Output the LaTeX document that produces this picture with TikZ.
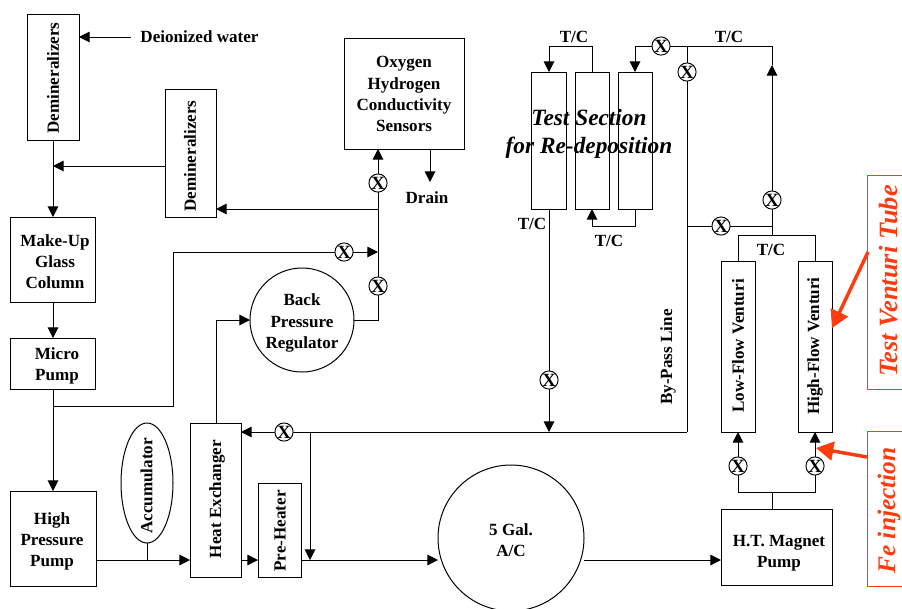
\documentclass[tikz,border=0pt]{standalone}
\usepackage{fontspec}
\setmainfont{Liberation Serif}
\usetikzlibrary{arrows.meta,calc,shapes.geometric}
\definecolor{redor}{RGB}{255,60,15}
\tikzset{
  x=0.75pt,y=-0.75pt,
  lbl/.style={font=\fontsize{12.8}{15.8}\selectfont\bfseries,align=center,inner sep=0pt},
  box/.style 2 args={draw,line width=0.75pt,inner sep=0pt,outer sep=0pt,minimum width=#1*0.75pt,minimum height=#2*0.75pt},
  ring/.style={circle,draw,line width=0.75pt,inner sep=0pt,outer sep=0pt,minimum size=#1*1.5pt},
  valve/.style={circle,draw,line width=0.7pt,fill=white,inner sep=0pt,outer sep=0pt,minimum size=13pt,font=\fontsize{14}{14}\selectfont\bfseries},
  pipe/.style={line width=0.75pt},
  flow/.style={line width=0.75pt,-{Triangle[length=8pt,width=8pt]}},
  redbox/.style 2 args={draw=redor,line width=0.75pt,inner sep=0pt,outer sep=0pt,minimum width=#1*0.75pt,minimum height=#2*0.75pt},
  redtxt/.style={font=\bfseries\itshape,text=redor,inner sep=0pt},
  redflow/.style={draw=redor,line width=2.6pt,-{Triangle[length=13pt,width=14pt]}},
}
\begin{document}
\begin{tikzpicture}
\path[use as bounding box] (0,0) rectangle (902,608);
\clip (0,0) rectangle (902,608);
% boxes
\node[box={52}{126}] (demA) at (53,77) {};
\node[box={51}{128}] (demB) at (190.5,153) {};
\node[box={120}{111}] (sens) at (404,93.5) {};
\node[box={85}{85}] (makeup) at (53,259.5) {};
\node[box={85}{51}] (micro) at (53,363.5) {};
\node[box={86}{95}] (hpp) at (53,538.5) {};
\node[ring=52] (bpr) at (302,320) {};
\node[draw,ellipse,line width=0.75pt,inner sep=0pt,outer sep=0pt,minimum width=39pt,minimum height=90pt] (acc) at (147,483) {};
\node[box={51}{154}] (hx) at (215.5,500) {};
\node[box={43}{94}] (pre) at (279.5,530) {};
\node[ring=73] (tank) at (511,538) {};
\node[box={111}{76}] (mag) at (776.5,547) {};
\node[box={34}{171}] (low) at (738,346.5) {};
\node[box={34}{171}] (high) at (815,346.5) {};
\node[box={34.5}{137}] (tsA) at (549,140.5) {};
\node[box={34.5}{137}] (tsB) at (592.5,140.5) {};
\node[box={34.5}{137}] (tsC) at (635.5,140.5) {};
% box labels
\node[lbl] (tSens) at (404,94) {Oxygen\\Hydrogen\\Conductivity\\Sensors};
\node[lbl] (tMake) at (55,262) {Make-Up\\Glass\\Column};
\node[lbl] (tMicro) at (57,366) {Micro\\Pump};
\node[lbl] (tHpp) at (52,541) {High\\Pressure\\Pump};
\node[lbl] (tBpr) at (302,323) {Back\\Pressure\\Regulator};
\node[lbl] (tTank) at (511,540) {5 Gal.\\A/C};
\node[lbl] (tMag) at (779,553) {H.T. Magnet\\Pump};
% rotated labels
\node[lbl,rotate=90] (tA) at (53,78) {Demineralizers};
\node[lbl,rotate=90] (tB) at (190,156) {Demineralizers};
\node[lbl,rotate=90] (tAcc) at (146.5,486) {Accumulator};
\node[lbl,rotate=90] (tHx) at (217,499) {Heat Exchanger};
\node[lbl,rotate=90] (tPre) at (280,531) {Pre-Heater};
\node[lbl,rotate=90] (tLow) at (738,346) {Low-Flow Venturi};
\node[lbl,rotate=90] (tHigh) at (815,346) {High-Flow Venturi};
\node[lbl,rotate=90] (tBy) at (668,357) {By-Pass Line};
% plain labels
\node[lbl] (diw) at (199.5,37) {Deionized water};
\node[lbl] (drain) at (427,198) {Drain};
\node[lbl] (tc1) at (574,37) {T/C};
\node[lbl] (tc2) at (729,37) {T/C};
\node[lbl] (tc3) at (532,224) {T/C};
\node[lbl] (tc4) at (609,241) {T/C};
\node[lbl] (tc5) at (771,250) {T/C};
\node[font=\fontsize{17.5}{21}\selectfont\bfseries\itshape,align=center,inner sep=0pt] (title) at (589,134) {Test Section\\for Re-deposition};
% valves
\node[valve] (v1) at (378,183) {X};
\node[valve] (v2) at (344,252) {X};
\node[valve] (v3) at (378,286) {X};
\node[valve] (v4) at (549,380) {X};
\node[valve] (v5) at (284,432) {X};
\node[valve] (v6) at (738,466) {X};
\node[valve] (v7) at (815,466) {X};
\node[valve] (v8) at (661,46) {X};
\node[valve] (v9) at (687,72) {X};
\node[valve] (v10) at (772,200) {X};
\node[valve] (v11) at (721,226) {X};
% free coordinates
\coordinate (src) at (131,37);
\coordinate (drainEnd) at (430,182);
\coordinate (jDem) at (53,166);
\coordinate (jMicro) at (53,406);
\coordinate (cMicro) at (173,406);
\coordinate (cTop) at (173,252);
\coordinate (jV) at (378,252);
\coordinate (jBack) at (378,209);
\coordinate (cBpr) at (378,320);
\coordinate (cHx) at (216,320);
\coordinate (jAcc) at (147,560);
\coordinate (jRet) at (310,432);
\coordinate (jPre) at (310,560);
\coordinate (cBy) at (687,432);
\coordinate (jTs) at (549,432);
\coordinate (jTop) at (687,46);
\coordinate (cTopR) at (772,46);
\coordinate (cTopM) at (635,46);
\coordinate (tipR) at (772,65);
\coordinate (jByp) at (687,226);
\coordinate (jR) at (772,226);
\coordinate (jVen) at (772,235);
\coordinate (cVenL) at (738,235);
\coordinate (cVenR) at (815,235);
\coordinate (cMagL) at (738,492);
\coordinate (cMagR) at (815,492);
\coordinate (jMag) at (772,492);
\coordinate (cTsA) at (549,46);
\coordinate (cTsB) at (592,46);
\coordinate (cBotC) at (635,226);
\coordinate (cBotB) at (592,226);
\coordinate (fxA) at (868,252);
\coordinate (fxB) at (867,457);
\coordinate (fxTipA) at (832,328);
\coordinate (fxTipB) at (816,448);
% connectors
\draw[flow] (src) -- (src -| demA.east);
\draw[flow] (demA.south) -- (makeup.north);
\draw[flow] (demB.west |- jDem) -- (jDem);
\draw[flow] (makeup.south) -- (micro.north);
\draw[flow] (micro.south) -- (hpp.north);
\draw[pipe] (jMicro) -- (cMicro) -- (cTop) -- (v2);
\draw[flow] (v2) -- (jV);
\draw[flow] (hx.north -| cHx) -- (cHx) -- (bpr.west);
\draw[pipe] (bpr.east) -- (cBpr) -- (v3);
\draw[pipe] (v3) -- (v1);
\draw[flow] (v1) -- (v1 |- sens.south);
\draw[flow] (jBack) -- (demB.east |- jBack);
\draw[flow] (drainEnd |- sens.south) -- (drainEnd);
\draw[pipe] (hpp.east |- jAcc) -- (jAcc);
\draw[flow] (jAcc) -- (hx.west |- jAcc);
\draw[pipe] (acc.south) -- (jAcc);
\draw[flow] (hx.east |- jAcc) -- (pre.west |- jAcc);
\draw[flow] (pre.east |- jPre) -- (tank.west |- jPre);
\draw[flow] (jRet) -- (jPre);
\draw[flow] (tank.east |- jPre) -- (mag.west |- jPre);
\draw[pipe] (cBy) -- (v5);
\draw[flow] (v5) -- (hx.east |- v5);
\draw[pipe] (tsA.south) -- (v4);
\draw[flow] (v4) -- (jTs);
\draw[pipe] (cBy) -- (v9);
\draw[pipe] (v9) -- (jTop);
\draw[flow] (v8) -- (cTopM) -- (cTopM |- tsC.north);
\draw[pipe] (v8) -- (cTopR) -- (tipR);
\draw[flow] (v10) -- (tipR);
\draw[pipe] (jR) -- (v10);
\draw[pipe] (jByp) -- (v11);
\draw[pipe] (v11) -- (jR);
\draw[pipe] (jR) -- (jVen);
\draw[pipe] (cVenL |- low.north) -- (cVenL) -- (cVenR) -- (cVenR |- high.north);
\draw[pipe] (mag.north -| jMag) -- (jMag);
\draw[pipe] (v6) -- (cMagL) -- (cMagR) -- (v7);
\draw[flow] (v6) -- (low.south);
\draw[flow] (v7) -- (high.south);
\draw[flow] (cTsB |- tsB.north) -- (cTsB) -- (cTsA) -- (tsA.north);
\draw[flow] (cBotC |- tsC.south) -- (cBotC) -- (cBotB) -- (cBotB |- tsB.south);
% red annotations
\node[redbox={60}{214}] (rbA) at (897,282) {};
\node[redbox={60}{155}] (rbB) at (897,508.5) {};
\node[redtxt,font=\fontsize{19.8}{22}\selectfont\bfseries\itshape,rotate=90] (rtA) at (889,281) {Test Venturi Tube};
\node[redtxt,font=\fontsize{19}{22}\selectfont\bfseries\itshape,rotate=90] (rtB) at (889,510.5) {Fe injection};
\draw[redflow] (fxA) -- (fxTipA);
\draw[redflow] (fxB) -- (fxTipB);
\end{tikzpicture}
\end{document}
